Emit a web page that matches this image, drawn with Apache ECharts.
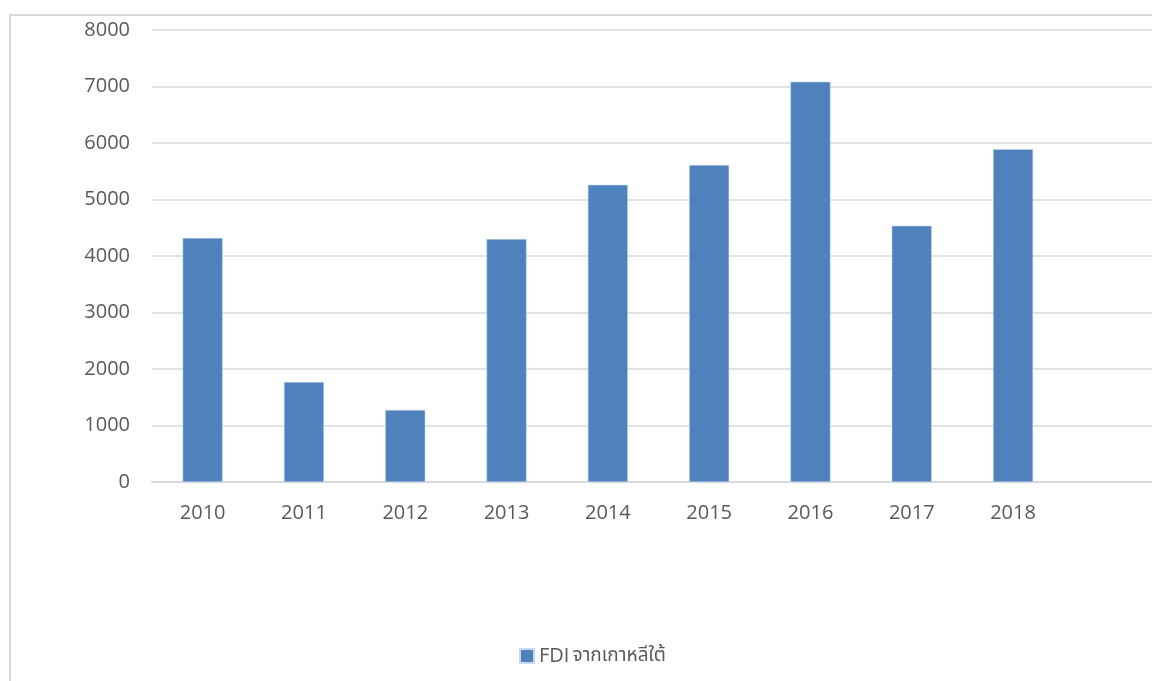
<!DOCTYPE html>
<html>
<head>
<meta charset="utf-8">
<script src="https://cdn.jsdelivr.net/npm/echarts@6/dist/echarts.min.js"></script>
<style>
html,body{margin:0;padding:0;background:#fff;overflow:hidden;width:1152px;height:681px;position:relative;}
#c{position:absolute;left:0;top:0;width:1300px;height:800px;}
#frame{position:absolute;left:9px;top:14px;width:1400px;height:900px;border-left:2px solid #d9d9d9;border-top:2px solid #d9d9d9;pointer-events:none;}
</style>
</head>
<body>
<div id="c"></div>
<div id="frame"></div>
<script>
const categories = ['2010','2011','2012','2013','2014','2015','2016','2017','2018',''];
const fdiValues = [4320, 1770, 1275, 4300, 5260, 5610, 7085, 4535, 5890, null];
const seriesName = 'FDI จากเกาหลีใต้';
const yTicks = {min: 0, max: 8000, interval: 1000};

const chart = echarts.init(document.getElementById('c'), null, {renderer: 'canvas'});
const fontFam = '"Open Sans", "Noto Sans", "Noto Sans Thai", "DejaVu Sans", sans-serif';
chart.setOption({
  animation: false,
  backgroundColor: '#ffffff',
  grid: {left: 152, top: 30, width: 1013, height: 452, containLabel: false},
  legend: {
    left: 514, top: 641,
    itemWidth: 14, itemHeight: 14,
    icon: 'rect',
    itemGap: 6,
    formatter: function (name) {
      const parts = name.split(' ');
      return '{a|' + parts[0] + '} {b|' + parts.slice(1).join(' ') + '}';
    },
    textStyle: {
      color: '#595959',
      fontFamily: fontFam,
      rich: {
        a: {fontSize: 20, color: '#595959', fontFamily: fontFam},
        b: {fontSize: 19, color: '#595959', fontFamily: fontFam}
      }
    },
    data: [seriesName]
  },
  xAxis: {
    type: 'category',
    data: categories,
    axisLine: {lineStyle: {color: '#d9d9d9', width: 2}},
    axisTick: {show: false},
    axisLabel: {color: '#595959', fontSize: 20, margin: 21, fontFamily: fontFam, interval: 0}
  },
  yAxis: {
    type: 'value',
    min: yTicks.min, max: yTicks.max, interval: yTicks.interval,
    axisLine: {show: false},
    axisTick: {show: false},
    axisLabel: {color: '#595959', fontSize: 20, margin: 22, fontFamily: fontFam,
      formatter: function (v) { return String(v); }},
    splitLine: {lineStyle: {color: '#d9d9d9', width: 1.5}}
  },
  series: [{
    name: seriesName,
    type: 'bar',
    data: fdiValues,
    barWidth: 40,
    itemStyle: {color: '#4f81bd', borderColor: '#c9daf0', borderWidth: 0.5}
  }]
});
</script>
</body>
</html>
